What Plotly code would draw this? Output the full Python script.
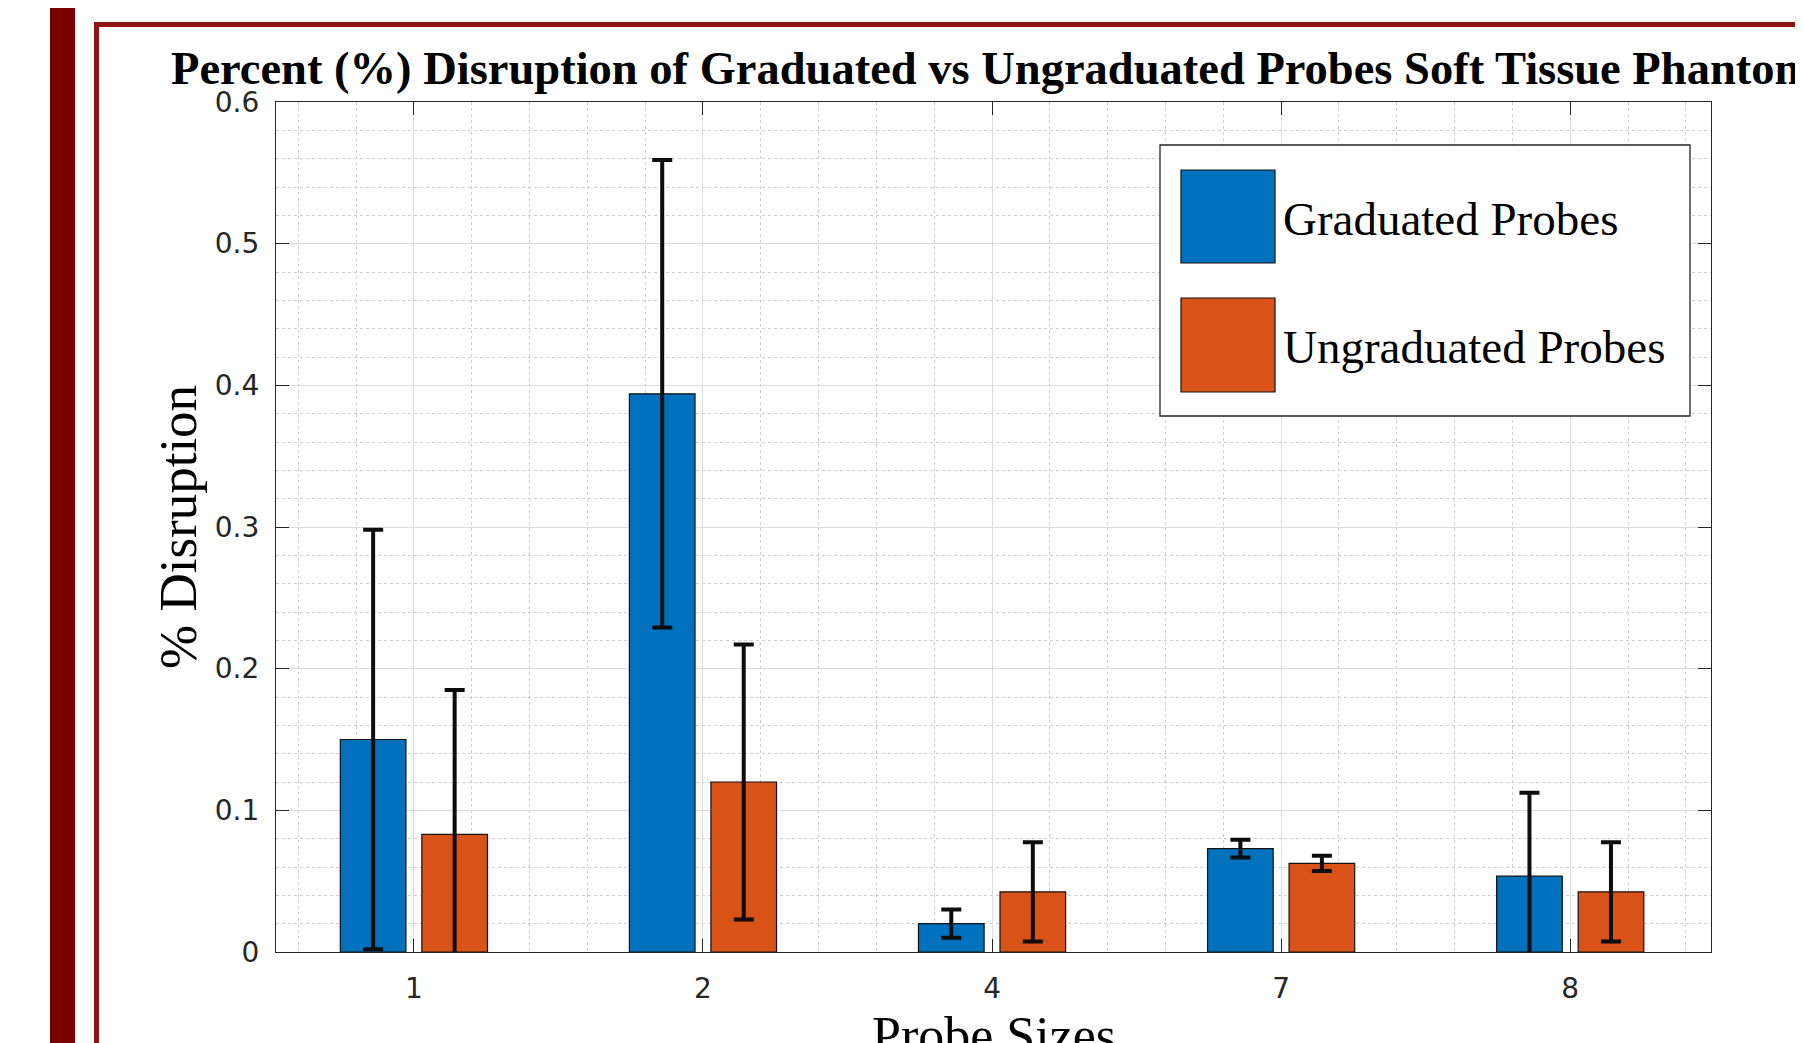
import plotly.graph_objects as go

# ---- data ----
probe_sizes = ["1", "2", "4", "7", "8"]
graduated = [0.150, 0.394, 0.020, 0.073, 0.0535]
graduated_err = [0.148, 0.165, 0.010, 0.0063, 0.059]
ungraduated = [0.083, 0.120, 0.0425, 0.0626, 0.0425]
ungraduated_err = [0.102, 0.097, 0.035, 0.0054, 0.035]
series_names = ["Graduated Probes", "Ungraduated Probes"]
series_colors = ["#0072BD", "#D95319"]

x_pos = [i + 1 for i in range(len(probe_sizes))]

# page offset of the plot inside the browser (body margin)
OFF = 8
W, H = 1803 - OFF, 1043 - OFF
# plot area, in screen pixels
SL, SR, ST, SB = 276, 1711, 102, 952
L, R, T, B = SL - OFF, SR - OFF, ST - OFF, SB - OFF


def px_x(p):
    """screen x pixel -> paper coordinate"""
    return (p - SL) / (SR - SL)


def px_y(p):
    """screen y pixel -> paper coordinate"""
    return (SB - p) / (SB - ST)


fig = go.Figure()
for name, vals, errs, col in [
    (series_names[0], graduated, graduated_err, series_colors[0]),
    (series_names[1], ungraduated, ungraduated_err, series_colors[1]),
]:
    fig.add_trace(go.Bar(
        x=x_pos, y=vals, name=name,
        marker=dict(color=col, line=dict(color="#111111", width=1.2)),
        error_y=dict(type="data", array=errs, visible=True,
                     color="#0d0d0d", thickness=4, width=10),
        showlegend=False,
    ))

axis_common = dict(
    showline=True, linecolor="#262626", linewidth=1.3, mirror="ticks",
    ticks="inside", ticklen=13, tickwidth=1.3, tickcolor="#262626",
    showgrid=True, gridcolor="#dcdcdc", gridwidth=1, zeroline=False,
    tickfont=dict(family="DejaVu Sans", size=28, color="#262626"),
)

fig.update_layout(
    width=W, height=H,
    margin=dict(l=L, r=W - R, t=T, b=H - B),
    paper_bgcolor="white", plot_bgcolor="white",
    barmode="group", bargap=0.436, bargroupgap=0.195,
    xaxis=dict(
        **axis_common,
        range=[0.523, 5.487],
        tickmode="array", tickvals=x_pos, ticktext=probe_sizes,
        ticklabelstandoff=11,
        minor=dict(dtick=0.2, tick0=0, showgrid=True, griddash="dot",
                   gridcolor="#cfcfcf", gridwidth=1, ticks=""),
    ),
    yaxis=dict(
        **axis_common,
        range=[0, 0.6], dtick=0.1, tick0=0,
        ticklabelstandoff=10,
        minor=dict(dtick=0.02, tick0=0, showgrid=True, griddash="dot",
                   gridcolor="#cfcfcf", gridwidth=1, ticks=""),
    ),
)

shapes = [
    # dark red side bar
    dict(type="rect", xref="paper", yref="paper",
         x0=px_x(50), x1=px_x(75), y0=px_y(1100), y1=px_y(-20),
         fillcolor="#7b0000", line=dict(width=0), layer="below"),
    # red frame
    dict(type="rect", xref="paper", yref="paper",
         x0=px_x(96.5), x1=px_x(2100), y0=px_y(1200), y1=px_y(24.5),
         fillcolor="rgba(0,0,0,0)", line=dict(color="#8e1414", width=5),
         layer="below"),
    # legend box
    dict(type="rect", xref="paper", yref="paper",
         x0=px_x(1160), x1=px_x(1690), y0=px_y(416), y1=px_y(145),
         fillcolor="white", line=dict(color="#262626", width=1.3),
         layer="above"),
    dict(type="rect", xref="paper", yref="paper",
         x0=px_x(1181), x1=px_x(1275), y0=px_y(263), y1=px_y(170),
         fillcolor=series_colors[0], line=dict(color="#111111", width=1.2),
         layer="above"),
    dict(type="rect", xref="paper", yref="paper",
         x0=px_x(1181), x1=px_x(1275), y0=px_y(392), y1=px_y(298),
         fillcolor=series_colors[1], line=dict(color="#111111", width=1.2),
         layer="above"),
]
fig.update_layout(shapes=shapes)

serif = "Liberation Serif"
annotations = [
    dict(text="<b>Percent (%) Disruption of Graduated vs Ungraduated Probes Soft Tissue Phantom</b>",
         xref="paper", yref="paper", x=px_x(169), y=px_y(41),
         xanchor="left", yanchor="top", showarrow=False,
         font=dict(family=serif, size=46.5, color="#000000")),
    dict(text="% Disruption", textangle=-90,
         xref="paper", yref="paper", x=px_x(178), y=0.5,
         xanchor="center", yanchor="middle", showarrow=False,
         font=dict(family=serif, size=53, color="#000000")),
    dict(text="Probe Sizes",
         xref="paper", yref="paper", x=0.5, y=px_y(1005),
         xanchor="center", yanchor="top", showarrow=False,
         font=dict(family=serif, size=52, color="#000000")),
    dict(text=series_names[0],
         xref="paper", yref="paper", x=px_x(1281), y=px_y(219),
         xanchor="left", yanchor="middle", showarrow=False,
         font=dict(family=serif, size=47, color="#000000")),
    dict(text=series_names[1],
         xref="paper", yref="paper", x=px_x(1281), y=px_y(347),
         xanchor="left", yanchor="middle", showarrow=False,
         font=dict(family=serif, size=47, color="#000000")),
]
fig.update_layout(annotations=annotations)

fig.write_html("out.html")
